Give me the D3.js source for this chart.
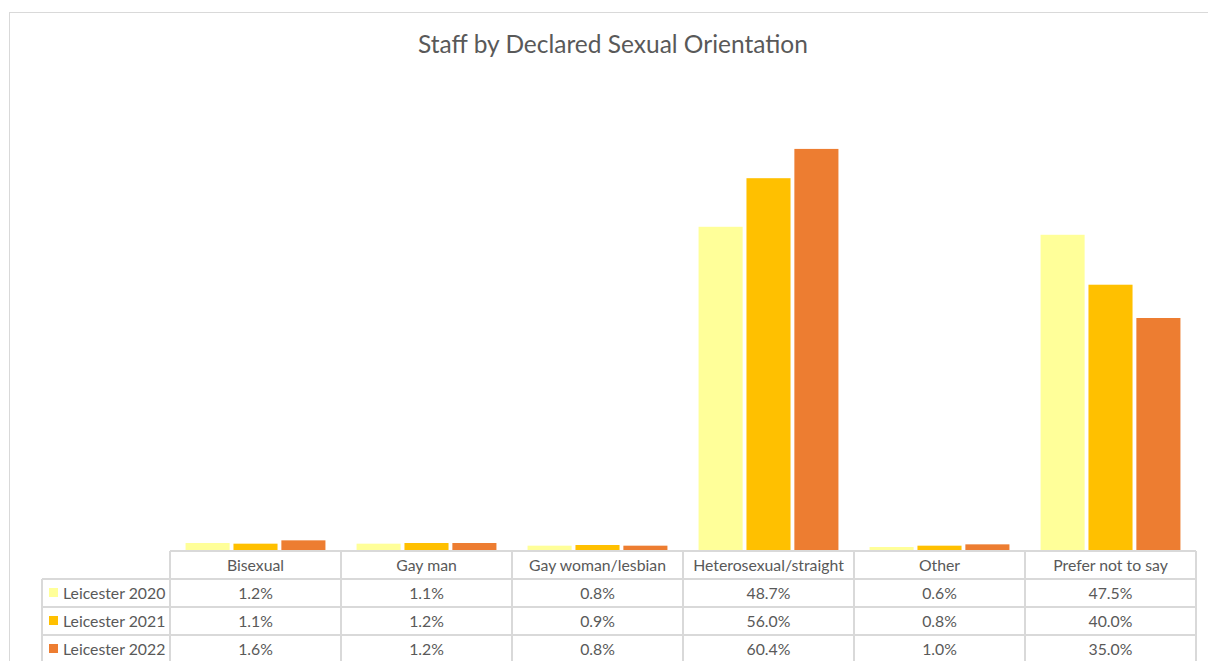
<!DOCTYPE html>
<html>
<head>
<meta charset="utf-8">
<script src="https://cdn.jsdelivr.net/npm/d3@7"></script>
<style>
  body { margin: 0; background: #fff; }
  svg text { font-family: Lato, "Open Sans", sans-serif; fill: #595959; }
</style>
</head>
<body>
<div id="chart"></div>
<script>
var categories = ["Bisexual", "Gay man", "Gay woman/lesbian", "Heterosexual/straight", "Other", "Prefer not to say"];
var seriesNames = ["Leicester 2020", "Leicester 2021", "Leicester 2022"];
var values2020 = [1.2, 1.1, 0.8, 48.7, 0.6, 47.5];
var values2021 = [1.1, 1.2, 0.9, 56.0, 0.8, 40.0];
var values2022 = [1.6, 1.2, 0.8, 60.4, 1.0, 35.0];
var colors = ["#FFFF99", "#FFC000", "#ED7D31"];

var series = [values2020, values2021, values2022];

var W = 1208, H = 661;
var svg = d3.select("#chart").append("svg")
    .attr("width", W)
    .attr("height", H);

// chart frame (cropped on the right and bottom like the screenshot)
svg.append("rect")
    .attr("x", 9.5).attr("y", 12.5)
    .attr("width", W + 20).attr("height", H + 20)
    .attr("fill", "#fff")
    .attr("stroke", "#d9d9d9");

svg.append("text")
    .attr("x", 613).attr("y", 53)
    .attr("text-anchor", "middle")
    .style("font-size", "24.5px")
    .text("Staff by Declared Sexual Orientation");

var plotLeft = 170, plotRight = 1196, baseY = 551;

var x = d3.scaleBand()
    .domain(categories)
    .range([plotLeft, plotRight])
    .paddingInner(0.182)
    .paddingOuter(0.091);
var x1 = d3.scaleBand()
    .domain(d3.range(series.length))
    .range([0, x.bandwidth()])
    .paddingInner(0.08);
var y = d3.scaleLinear().domain([0, 70]).range([baseY, 85]);

var groups = svg.selectAll("g.cat")
    .data(categories)
    .enter().append("g")
    .attr("class", "cat")
    .attr("transform", function (d) { return "translate(" + x(d) + ",0)"; });

groups.selectAll("rect")
    .data(function (d, i) {
        return series.map(function (s, j) { return { s: j, v: s[i] }; });
    })
    .enter().append("rect")
    .attr("x", function (d) { return x1(d.s); })
    .attr("width", x1.bandwidth())
    .attr("y", function (d) { return y(d.v); })
    .attr("height", function (d) { return baseY - y(d.v); })
    .attr("fill", function (d) { return colors[d.s]; });

// data table
var rowH = 28;
var legendLeft = 42;
var colW = (plotRight - plotLeft) / categories.length;
var grid = svg.append("g")
    .attr("stroke", "#d9d9d9")
    .attr("stroke-width", 1.5)
    .attr("shape-rendering", "crispEdges");

// header row top line = axis line
grid.append("line")
    .attr("x1", plotLeft).attr("x2", plotRight)
    .attr("y1", baseY).attr("y2", baseY);
// row lines
d3.range(1, 4).forEach(function (r) {
    grid.append("line")
        .attr("x1", legendLeft).attr("x2", plotRight)
        .attr("y1", baseY + r * rowH).attr("y2", baseY + r * rowH);
});
// verticals
d3.range(categories.length + 1).forEach(function (c) {
    grid.append("line")
        .attr("x1", plotLeft + c * colW).attr("x2", plotLeft + c * colW)
        .attr("y1", baseY).attr("y2", H);
});
grid.append("line")
    .attr("x1", legendLeft).attr("x2", legendLeft)
    .attr("y1", baseY + rowH).attr("y2", H);

// header labels
svg.selectAll("text.hdr")
    .data(categories)
    .enter().append("text")
    .attr("class", "hdr")
    .attr("x", function (d) { return x(d) + x.bandwidth() / 2; })
    .attr("y", baseY + rowH / 2 + 5.5)
    .attr("text-anchor", "middle")
    .style("font-size", "15.8px")
    .text(function (d) { return d; });

// rows
series.forEach(function (s, j) {
    var cy = baseY + rowH * (j + 1) + rowH / 2;
    svg.append("rect")
        .attr("x", 49).attr("y", cy - 5)
        .attr("width", 9).attr("height", 9)
        .attr("fill", colors[j]);
    svg.append("text")
        .attr("x", 63).attr("y", cy + 5.5)
        .style("font-size", "15.8px")
        .text(seriesNames[j]);
    svg.selectAll("text.v" + j)
        .data(s)
        .enter().append("text")
        .attr("class", "v" + j)
        .attr("x", function (d, i) { return x(categories[i]) + x.bandwidth() / 2; })
        .attr("y", cy + 5.5)
        .attr("text-anchor", "middle")
        .style("font-size", "15.8px")
        .text(function (d) { return d.toFixed(1) + "%"; });
});
</script>
</body>
</html>
